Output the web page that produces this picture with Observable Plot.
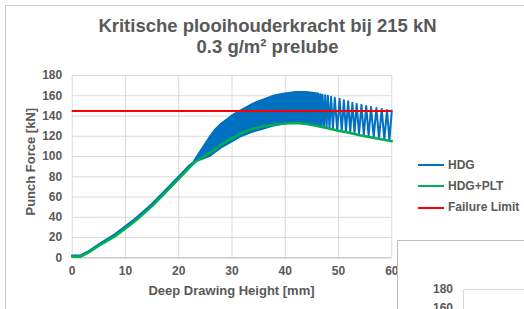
<!DOCTYPE html>
<html><head><meta charset="utf-8">
<script src="https://cdn.jsdelivr.net/npm/d3@7"></script>
<script src="https://cdn.jsdelivr.net/npm/@observablehq/plot@0.6"></script>
<style>
html,body{margin:0;padding:0;background:#fff;}
#wrap{position:relative;width:524px;height:309px;overflow:hidden;font-family:Arial,"Liberation Sans",sans-serif;color:#595959;}
.abs{position:absolute;white-space:nowrap;}
</style></head>
<body><div id="wrap"></div>
<script>
// ---- data ----
const xTicks = [0, 10, 20, 30, 40, 50, 60];
const yTicks = [0, 20, 40, 60, 80, 100, 120, 140, 160, 180];
const failureLimit = 145;
// HDG before oscillation
const hdgX = [0, 1.5, 3, 5, 8, 10, 12, 15, 18, 20, 22, 23];
const hdgY = [2, 2, 6, 13, 23, 31, 39, 53, 69, 80, 91, 95];
// HDG dense oscillation envelope
const bandX =     [23, 24, 25, 26, 27, 28, 30, 31.6, 34, 36, 38, 40, 42, 44, 46.2];
const bandUpper = [96, 104, 112, 120, 127, 132, 140, 145, 152, 156, 160, 162, 163.5, 163.5, 162];
const bandLower = [94, 96, 98, 100, 104, 108, 114, 119, 124, 127, 130, 132, 133, 132, 130];
// HDG resolved oscillations at the end
const zigX = [46.0, 46.2, 46.4, 46.6, 46.8, 47.0, 47.25, 47.5, 47.75, 48.0, 48.3, 48.6, 48.95, 49.3, 49.75,
              50.2, 50.6, 51.0, 51.4, 51.8, 52.2, 52.6, 53.0, 53.4, 53.85, 54.3, 54.75, 55.2, 55.65, 56.1, 56.6, 57.1, 57.6, 58.1, 58.6, 59.1, 59.55, 60.0];
const zigY = [130, 162, 130, 161.5, 129.5, 161, 129, 160.5, 128.5, 160, 128, 159, 127.5, 158, 126,
              157, 125, 155.5, 124.5, 154.5, 124, 153, 123, 152, 122, 151, 121, 150, 120, 149, 119, 148, 118, 147, 117, 146, 116, 145.5];
// HDG+PLT
const pltX = [0, 1.5, 3, 5, 8, 10, 12, 15, 18, 20, 22, 23.4, 25, 26.6, 28, 30, 32, 34, 36, 38, 40, 42, 44, 46, 48, 50, 52, 54, 56, 58, 60];
const pltY = [1, 1, 5, 12, 21, 29, 37, 51, 67, 78, 89, 96, 101, 106, 112, 118, 123.5, 127.5, 130, 131.5, 132.5, 133, 132, 130, 128, 125.5, 123.5, 121, 119, 117, 115];

const cBlue = "#0070C0", cGreen = "#00B050", cRed = "#FF0000";

const hdgLine = hdgX.map((x, i) => ({x, y: hdgY[i]}));
const band = bandX.map((x, i) => ({x, y1: bandLower[i], y2: bandUpper[i]}));
const zig = zigX.map((x, i) => ({x, y: zigY[i]}));
const plt = pltX.map((x, i) => ({x, y: pltY[i]}));

const chart = Plot.plot({
  width: 524, height: 309,
  marginLeft: 71.7, marginRight: 132.7, marginTop: 75, marginBottom: 51.7,
  x: {domain: [0, 60]},
  y: {domain: [0, 180]},
  style: {fontFamily: 'Arial, "Liberation Sans", sans-serif', fontSize: "12px", fontWeight: "bold", color: "#595959", background: "transparent", overflow: "visible"},
  marks: [
    Plot.gridX(xTicks, {stroke: "#d9d9d9", strokeOpacity: 1, strokeWidth: 1}),
    Plot.gridY(yTicks, {stroke: "#d9d9d9", strokeOpacity: 1, strokeWidth: 1}),
    Plot.ruleY([0], {stroke: "#bfbfbf", strokeWidth: 1}),
    Plot.axisX(xTicks, {tickSize: 0, tickPadding: 9, label: null, fill: "#595959", fontWeight: "bold"}),
    Plot.axisY(yTicks, {tickSize: 0, tickPadding: 10, label: null, fill: "#595959", fontWeight: "bold"}),
    Plot.areaY(band, {x: "x", y1: "y1", y2: "y2", fill: cBlue, stroke: cBlue, strokeWidth: 1.5}),
    Plot.line(hdgLine, {x: "x", y: "y", stroke: cBlue, strokeWidth: 2.5}),
    Plot.line(zig, {x: "x", y: "y", stroke: cBlue, strokeWidth: 2}),
    Plot.line(plt, {x: "x", y: "y", stroke: cGreen, strokeWidth: 2.5}),
    Plot.ruleY([failureLimit], {stroke: cRed, strokeWidth: 2})
  ]
});
const wrap = document.getElementById("wrap");
chart.style.position = "absolute"; chart.style.left = "0px"; chart.style.top = "0px";

// outer frame
const frame = document.createElement("div");
frame.className = "abs";
frame.style.cssText = "left:5px;top:5px;width:600px;height:400px;border:1px solid #d0ccc2;";
wrap.appendChild(frame);
wrap.appendChild(chart);

function addText(txt, css){
  const d = document.createElement("div"); d.className = "abs"; d.textContent = txt; d.style.cssText += css; wrap.appendChild(d); return d;
}
addText("Kritische plooihouderkracht bij 215 kN", "left:0;width:535px;text-align:center;top:15px;font-size:18.5px;font-weight:bold;line-height:21px;");
addText("0.3 g/m² prelube", "left:0;width:535px;text-align:center;top:36px;font-size:18.5px;font-weight:bold;line-height:21px;");
addText("Deep Drawing Height [mm]", "left:131.5px;width:200px;text-align:center;top:283px;font-size:13px;font-weight:bold;line-height:15px;");
addText("Punch Force [kN]", "left:-20.5px;width:100px;text-align:center;top:157.5px;font-size:13px;font-weight:bold;line-height:15px;transform:rotate(-90deg);");

// legend
const legend = [["HDG", cBlue], ["HDG+PLT", cGreen], ["Failure Limit", cRed]];
legend.forEach(([name, col], i) => {
  const y = 165 + i * 21.3;
  const l = document.createElement("div"); l.className = "abs";
  l.style.cssText = `left:418px;top:${y - 1}px;width:26px;height:2px;background:${col};`;
  wrap.appendChild(l);
  addText(name, `left:448px;top:${y - 7.5}px;font-size:12px;font-weight:bold;line-height:14px;`);
});

// overlapping second chart frame (partially visible)
const box = document.createElement("div"); box.className = "abs";
box.style.cssText = "left:397px;top:240px;width:300px;height:200px;border:1px solid #c2bcae;background:#fff;";
wrap.appendChild(box);
addText("180", "left:417px;top:282px;width:36px;text-align:right;font-size:12px;font-weight:bold;line-height:14px;");
addText("160", "left:417px;top:301px;width:36px;text-align:right;font-size:12px;font-weight:bold;line-height:14px;");
const g1 = document.createElement("div"); g1.className = "abs";
g1.style.cssText = "left:463px;top:289px;width:100px;height:1px;background:#d9d9d9;";
wrap.appendChild(g1);
const g2 = document.createElement("div"); g2.className = "abs";
g2.style.cssText = "left:463px;top:289px;width:1px;height:40px;background:#d9d9d9;";
wrap.appendChild(g2);
</script></body></html>
